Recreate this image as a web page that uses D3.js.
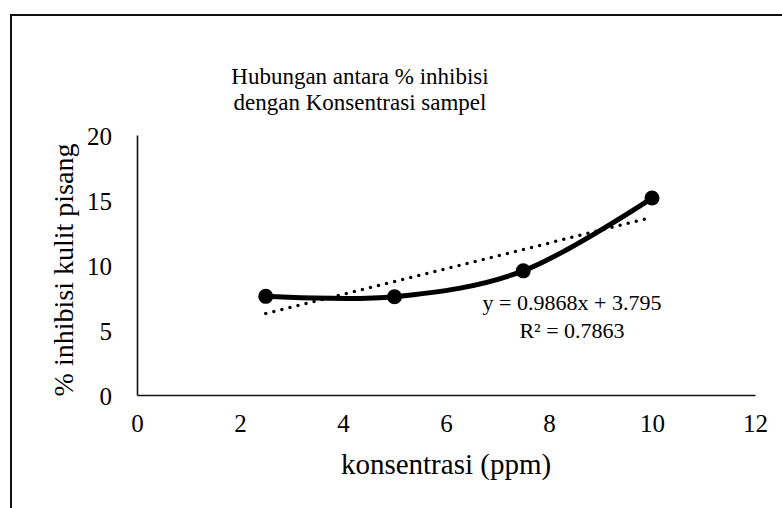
<!DOCTYPE html>
<html>
<head>
<meta charset="utf-8">
<script src="https://cdn.jsdelivr.net/npm/d3@7"></script>
<style>
  body { margin: 0; background: #fff; }
  text { font-family: "Liberation Serif", "DejaVu Serif", serif; fill: #000; }
</style>
</head>
<body>
<div id="chart"></div>
<script>
var konsentrasi = [2.5, 5, 7.5, 10]; // ppm
var inhibisi = [7.59, 7.56, 9.55, 15.15]; // % inhibisi kulit pisang
var xTicks = [0, 2, 4, 6, 8, 10, 12];
var yTicks = [0, 5, 10, 15, 20];
var trendSlope = 0.9868; // trendline
var trendIntercept = 3.795;
var trendLabels = ["y = 0.9868x + 3.795", "R\u00b2 = 0.7863"];
var titleLines = ["Hubungan antara % inhibisi", "dengan Konsentrasi sampel"];

var width = 782;
var height = 508;

var svg = d3.select("#chart") //whole picture
  .append("svg")
  .attr("width", width)
  .attr("height", height);

svg.append("path") //chart area frame, only left and top are visible
  .attr("d", "M11,508 L11,15 L782,15")
  .attr("fill", "none")
  .attr("stroke", "#111")
  .attr("stroke-width", 2);

var x = d3.scaleLinear().domain([0, 12]).range([137, 755]);
var y = d3.scaleLinear().domain([0, 20]).range([395, 135]);

var xAxis = svg.append("g") //x axis, line only
  .attr("transform", "translate(0," + y(0) + ")")
  .call(d3.axisBottom(x).tickValues(xTicks).tickSize(0).tickPadding(19));
var yAxis = svg.append("g")
  .attr("transform", "translate(" + x(0) + ",0)")
  .call(d3.axisLeft(y).tickValues(yTicks).tickSize(0).tickPadding(25));

[xAxis, yAxis].forEach(function(ax) {
  ax.attr("font-family", null);
  ax.select(".domain").attr("stroke", "#111").attr("stroke-width", 1.6);
  ax.selectAll("text")
    .style("font-size", "25px")
    .attr("fill", "#000");
});
yAxis.selectAll("text").attr("dy", "0.36em");

svg.selectAll(".title") //chart title, two lines
  .data(titleLines)
  .enter()
  .append("text")
  .attr("class", "title")
  .attr("x", 360)
  .attr("y", function(d, i) { return 84 + i * 26; })
  .attr("text-anchor", "middle")
  .style("font-size", "23px")
  .text(function(d) { return d; });

svg.append("text") //x axis title
  .attr("x", 446)
  .attr("y", 474)
  .attr("text-anchor", "middle")
  .style("font-size", "29px")
  .text("konsentrasi (ppm)");

svg.append("text") //y axis title
  .attr("transform", "translate(73," + 270 + ") rotate(-90)")
  .attr("text-anchor", "middle")
  .style("font-size", "28px")
  .text("% inhibisi kulit pisang");

var points = konsentrasi.map(function(d, i) { return [d, inhibisi[i]]; });
var xMin = d3.min(konsentrasi);
var xMax = d3.max(konsentrasi);

svg.append("line") //linear trendline, dotted
  .attr("x1", x(xMin))
  .attr("y1", y(trendSlope * xMin + trendIntercept))
  .attr("x2", x(xMax))
  .attr("y2", y(trendSlope * xMax + trendIntercept))
  .attr("stroke", "#000")
  .attr("stroke-width", 3.5)
  .attr("stroke-linecap", "round")
  .attr("stroke-dasharray", "0 8.3");

var line = d3.line() //smoothed series line
  .x(function(d) { return x(d[0]); })
  .y(function(d) { return y(d[1]); })
  .curve(d3.curveCardinal.tension(0));

svg.append("path")
  .datum(points)
  .attr("d", line)
  .attr("fill", "none")
  .attr("stroke", "#000")
  .attr("stroke-width", 5)
  .attr("stroke-linejoin", "round");

svg.selectAll(".dot") //markers
  .data(points)
  .enter()
  .append("circle")
  .attr("class", "dot")
  .attr("cx", function(d) { return x(d[0]); })
  .attr("cy", function(d) { return y(d[1]); })
  .attr("r", 7.5)
  .attr("fill", "#000");

svg.selectAll(".eq") //trendline label
  .data(trendLabels)
  .enter()
  .append("text")
  .attr("class", "eq")
  .attr("x", 572)
  .attr("y", function(d, i) { return 310 + i * 28; })
  .attr("text-anchor", "middle")
  .style("font-size", "22px")
  .text(function(d) { return d; });
</script>
</body>
</html>
